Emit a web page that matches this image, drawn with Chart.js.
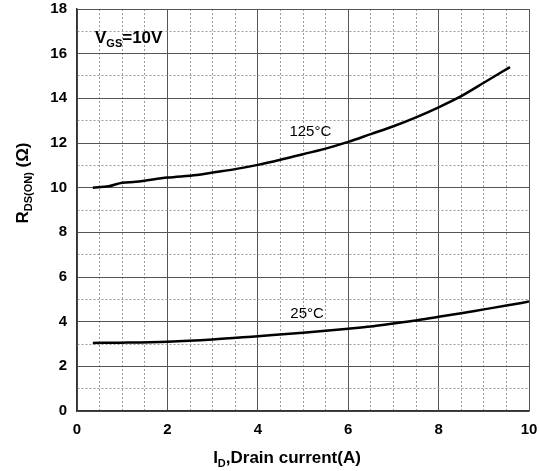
<!DOCTYPE html>
<html>
<head>
<meta charset="utf-8">
<script src="https://cdn.jsdelivr.net/npm/chart.js@4.4.0/dist/chart.umd.min.js"></script>
<style>
  html, body { margin: 0; padding: 0; background: #fff; }
  #wrap { width: 540px; height: 471px; }
</style>
</head>
<body>
<div id="wrap"><canvas id="rdsChart" width="540" height="471"></canvas></div>
<script>
// drain current (A) and on-resistance (ohm)
const current125 = [0.35, 0.7, 1.0, 1.3, 2.0, 2.65, 3.0, 3.5, 4.0, 4.5, 5.0, 5.5, 6.0, 6.5, 7.0, 7.5, 8.0, 8.5, 9.0, 9.58];
const rds125 = [10.0, 10.06, 10.22, 10.26, 10.45, 10.57, 10.68, 10.83, 11.02, 11.25, 11.5, 11.75, 12.05, 12.4, 12.75, 13.15, 13.6, 14.1, 14.7, 15.4];
const current25 = [0.35, 1.0, 2.0, 3.0, 4.0, 5.0, 6.0, 6.5, 7.0, 7.5, 8.0, 8.5, 9.0, 9.5, 10.0];
const rds25 = [3.05, 3.06, 3.1, 3.2, 3.35, 3.5, 3.68, 3.78, 3.92, 4.05, 4.22, 4.38, 4.55, 4.72, 4.9];
const xTickLabels = [0, 2, 4, 6, 8, 10];
const yTickLabels = [0, 2, 4, 6, 8, 10, 12, 14, 16, 18];

const FONT = '"Liberation Sans", Arial, Helvetica, sans-serif';

const toPoints = (xs, ys) => xs.map((x, i) => ({ x: x, y: ys[i] }));

// draws text pieces in a row, some of them as subscripts
function drawRich(ctx, parts, x, y, align) {
  let total = 0;
  parts.forEach(p => {
    ctx.font = p.font;
    total += ctx.measureText(p.text).width;
  });
  let cx = align === 'center' ? x - total / 2 : x;
  parts.forEach(p => {
    ctx.font = p.font;
    ctx.fillText(p.text, cx, y + (p.sub ? 4 : 0));
    cx += ctx.measureText(p.text).width;
  });
}

const labelsPlugin = {
  id: 'labels',
  afterDraw(chart) {
    const ctx = chart.ctx;
    const xs = chart.scales.x;
    const ys = chart.scales.y;
    const big = 'bold 17px ' + FONT;
    const small = 'bold 11px ' + FONT;
    ctx.save();
    ctx.fillStyle = '#000';
    ctx.textBaseline = 'alphabetic';
    ctx.textAlign = 'left';

    // V_GS=10V
    drawRich(ctx, [
      { text: 'V', font: big },
      { text: 'GS', font: small, sub: true },
      { text: '=10V', font: big }
    ], 95, 43, 'left');

    // curve labels
    ctx.font = '15px ' + FONT;
    ctx.fillText('125\u00B0C', xs.getPixelForValue(4.7), ys.getPixelForValue(12.3));
    ctx.fillText('25\u00B0C', xs.getPixelForValue(4.72), ys.getPixelForValue(4.17));

    // x axis title
    drawRich(ctx, [
      { text: 'I', font: big },
      { text: 'D', font: small, sub: true },
      { text: ',Drain current(A)', font: big }
    ], 287, 463, 'center');

    // y axis title
    ctx.translate(28, 183);
    ctx.rotate(-Math.PI / 2);
    drawRich(ctx, [
      { text: 'R', font: big },
      { text: 'DS(ON)', font: small, sub: true },
      { text: ' (\u03A9)', font: big }
    ], 0, 0, 'center');
    ctx.restore();
  }
};

const gridColor = c => (c.tick && Math.abs(c.tick.value % 2) > 1e-6) ? '#9a9a9a' : '#555';
const gridDash = c => (c.tick && Math.abs(c.tick.value % 2) > 1e-6) ? [2, 2] : [];

new Chart(document.getElementById('rdsChart'), {
  type: 'line',
  data: {
    datasets: [
      {
        label: '125\u00B0C',
        data: toPoints(current125, rds125),
        borderColor: '#000',
        borderWidth: 2.5,
        pointRadius: 0,
        cubicInterpolationMode: 'monotone',
        fill: false
      },
      {
        label: '25\u00B0C',
        data: toPoints(current25, rds25),
        borderColor: '#000',
        borderWidth: 2.5,
        pointRadius: 0,
        cubicInterpolationMode: 'monotone',
        fill: false
      }
    ]
  },
  options: {
    responsive: false,
    animation: false,
    devicePixelRatio: 1,
    layout: { padding: { top: 9, right: 11, left: 0, bottom: 0 } },
    plugins: {
      legend: { display: false },
      tooltip: { enabled: false }
    },
    scales: {
      x: {
        type: 'linear',
        min: 0,
        max: 10,
        afterFit(scale) {
          scale.height = 60;
          scale.paddingLeft = 0;
          scale.paddingRight = 0;
        },
        ticks: {
          stepSize: 0.5,
          autoSkip: false,
          maxRotation: 0,
          padding: 10,
          color: '#000',
          font: { family: FONT, size: 15, weight: 'bold' },
          callback: v => xTickLabels.includes(v) ? String(v) : ''
        },
        grid: { drawTicks: false, color: gridColor, lineWidth: 1 },
        border: { display: true, color: '#333', width: 1.5, dash: gridDash }
      },
      y: {
        type: 'linear',
        min: 0,
        max: 18,
        afterFit(scale) {
          scale.width = 77;
          scale.paddingTop = 0;
          scale.paddingBottom = 0;
        },
        ticks: {
          stepSize: 1,
          autoSkip: false,
          padding: 10,
          color: '#000',
          font: { family: FONT, size: 15, weight: 'bold' },
          callback: v => yTickLabels.includes(v) ? String(v) : ''
        },
        grid: { drawTicks: false, color: gridColor, lineWidth: 1 },
        border: { display: true, color: '#333', width: 1.5, dash: gridDash }
      }
    }
  },
  plugins: [labelsPlugin]
});
</script>
</body>
</html>
